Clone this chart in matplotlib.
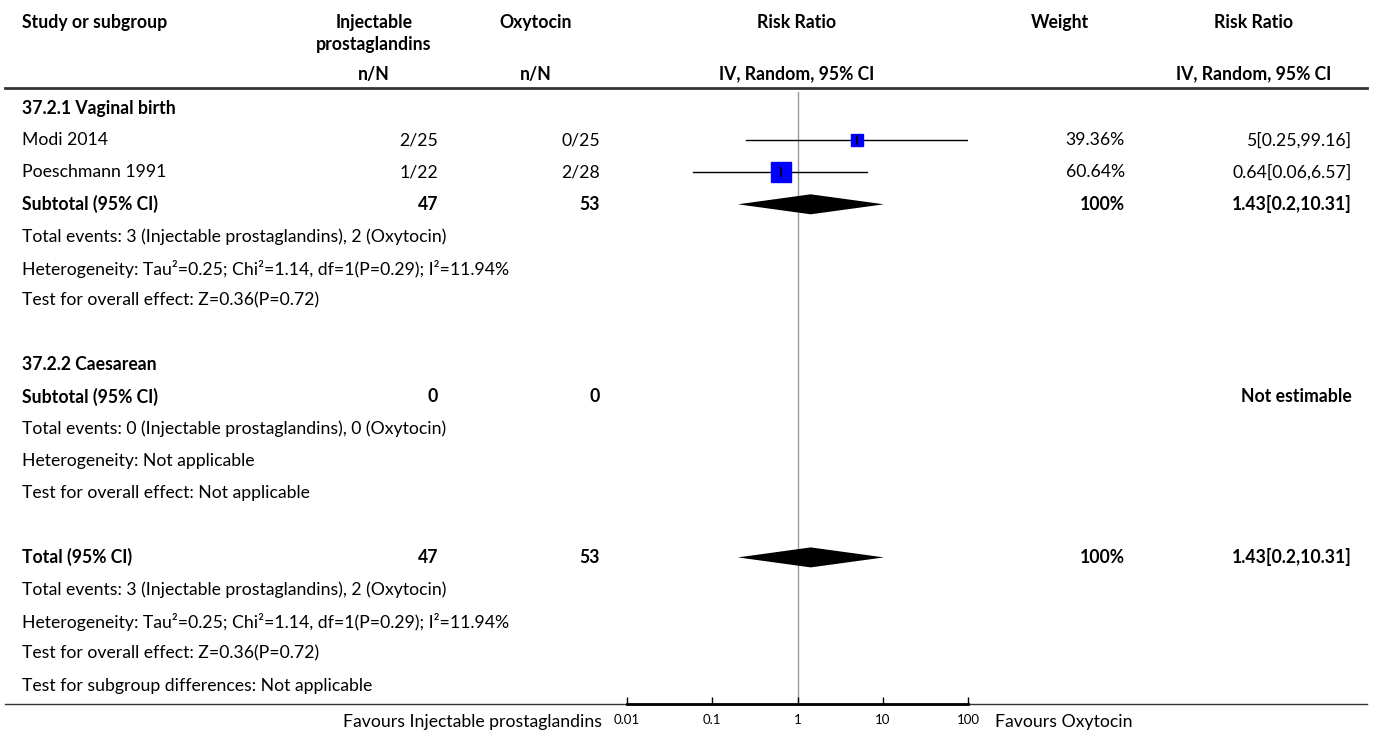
import numpy as np
import matplotlib
matplotlib.use('Agg')
import matplotlib.pyplot as plt

plt.rcParams['font.family'] = ['Lato', 'DejaVu Sans']

# data
studies = ['Modi 2014', 'Poeschmann 1991']
events_pg = [2, 1]
total_pg = [25, 22]
events_oxy = [0, 2]
total_oxy = [25, 28]
rr = [5, 0.64]
rr_lo = [0.25, 0.06]
rr_hi = [99.16, 6.57]
weights = [39.36, 60.64]

sub_rr, sub_lo, sub_hi = 1.43, 0.2, 10.31
sub_n_pg, sub_n_oxy = 47, 53
ticks = [0.01, 0.1, 1, 10, 100]
tick_labels = ['0.01', '0.1', '1', '10', '100']

het_text = 'Heterogeneity: Tau\u00b2=0.25; Chi\u00b2=1.14, df=1(P=0.29); I\u00b2=11.94%'
events_text = 'Total events: 3 (Injectable prostaglandins), 2 (Oxytocin)'
effect_text = 'Test for overall effect: Z=0.36(P=0.72)'

W, H = 1375, 735
FS = 12.7
fig = plt.figure(figsize=(W / 100, H / 100), dpi=100)
ax = fig.add_axes([0, 0, 1, 1])
ax.set_xlim(0, W)
ax.set_ylim(H, 0)
ax.axis('off')

# column positions (pixels)
X_LEFT = 22
X_PG = 438
X_OXY = 600
X_W = 1125
X_RR = 1352
Y0, DY = 108, 32.1


def row_y(k):
    return Y0 + DY * k


def txt(x, y, s, ha='left', bold=False, size=FS):
    ax.text(x, y, s, ha=ha, va='center', fontsize=size,
            fontweight='bold' if bold else 'normal', color='black')


# header
txt(X_LEFT, 22, 'Study or subgroup', bold=True)
txt(374, 22, 'Injectable', ha='center', bold=True)
txt(374, 44, 'prostaglandins', ha='center', bold=True)
txt(536, 22, 'Oxytocin', ha='center', bold=True)
txt(797, 22, 'Risk Ratio', ha='center', bold=True)
txt(1060, 22, 'Weight', ha='center', bold=True)
txt(1254, 22, 'Risk Ratio', ha='center', bold=True)
txt(374, 74, 'n/N', ha='center', bold=True)
txt(536, 74, 'n/N', ha='center', bold=True)
txt(797, 74, 'IV, Random, 95% CI', ha='center', bold=True)
txt(1254, 74, 'IV, Random, 95% CI', ha='center', bold=True)
ax.plot([5, 1367], [88, 88], color='#333333', lw=2)

# subgroup 1
txt(X_LEFT, row_y(0), '37.2.1 Vaginal birth', bold=True)
for i, name in enumerate(studies):
    y = row_y(1 + i)
    txt(X_LEFT, y, name)
    txt(X_PG, y, f'{events_pg[i]}/{total_pg[i]}', ha='right')
    txt(X_OXY, y, f'{events_oxy[i]}/{total_oxy[i]}', ha='right')
    txt(X_W, y, f'{weights[i]:.2f}%', ha='right')
    txt(X_RR, y, f'{rr[i]:g}[{rr_lo[i]:g},{rr_hi[i]:g}]', ha='right')
y = row_y(3)
txt(X_LEFT, y, 'Subtotal (95% CI)', bold=True)
txt(X_PG, y, str(sub_n_pg), ha='right', bold=True)
txt(X_OXY, y, str(sub_n_oxy), ha='right', bold=True)
txt(X_W, y, '100%', ha='right', bold=True)
txt(X_RR, y, f'{sub_rr:g}[{sub_lo:g},{sub_hi:g}]', ha='right', bold=True)
txt(X_LEFT, row_y(4), events_text)
txt(X_LEFT, row_y(5), het_text)
txt(X_LEFT, row_y(6), effect_text)

# subgroup 2
txt(X_LEFT, row_y(8), '37.2.2 Caesarean', bold=True)
y = row_y(9)
txt(X_LEFT, y, 'Subtotal (95% CI)', bold=True)
txt(X_PG, y, '0', ha='right', bold=True)
txt(X_OXY, y, '0', ha='right', bold=True)
txt(X_RR, y, 'Not estimable', ha='right', bold=True)
txt(X_LEFT, row_y(10), 'Total events: 0 (Injectable prostaglandins), 0 (Oxytocin)')
txt(X_LEFT, row_y(11), 'Heterogeneity: Not applicable')
txt(X_LEFT, row_y(12), 'Test for overall effect: Not applicable')

# overall
y = row_y(14)
txt(X_LEFT, y, 'Total (95% CI)', bold=True)
txt(X_PG, y, str(sub_n_pg), ha='right', bold=True)
txt(X_OXY, y, str(sub_n_oxy), ha='right', bold=True)
txt(X_W, y, '100%', ha='right', bold=True)
txt(X_RR, y, f'{sub_rr:g}[{sub_lo:g},{sub_hi:g}]', ha='right', bold=True)
txt(X_LEFT, row_y(15), events_text)
txt(X_LEFT, row_y(16), het_text)
txt(X_LEFT, row_y(17), effect_text)
txt(X_LEFT, row_y(18), 'Test for subgroup differences: Not applicable')

# bottom line + favours labels
AX_Y = 704
ax.plot([5, 1367], [AX_Y, AX_Y], color='#333333', lw=1)
txt(602, 722, 'Favours Injectable prostaglandins', ha='right')
txt(995, 722, 'Favours Oxytocin')

# forest panel on log scale
FX0, FX1, FY0 = 627, 968, 88
fx = fig.add_axes([FX0 / W, (H - AX_Y) / H, (FX1 - FX0) / W, (AX_Y - FY0) / H])
fx.set_xscale('log')
fx.set_xlim(ticks[0], ticks[-1])
fx.set_ylim(AX_Y, FY0)
fx.patch.set_alpha(0)
for s in ['top', 'left', 'right']:
    fx.spines[s].set_visible(False)
fx.spines['bottom'].set_linewidth(2)
fx.set_yticks([])
fx.set_xticks(ticks)
fx.set_xticklabels(tick_labels)
fx.minorticks_off()
fx.tick_params(axis='x', direction='in', length=5, width=1, labelsize=9.5, pad=7)

fx.plot([1, 1], [92, AX_Y], color='#999999', lw=1, zorder=1)

for i in range(len(studies)):
    y = row_y(1 + i)
    fx.plot([rr_lo[i], rr_hi[i]], [y, y], color='black', lw=1, zorder=2)
    side_px = weights[i] * 0.33
    fx.plot(rr[i], y, marker='s', ms=side_px * 0.72, color='#0000ff',
            mec='#0000ff', zorder=3)
    fx.plot(rr[i], y, marker='|', ms=7, mew=1.2, color='black', zorder=4)

for k in [3, 14]:
    y = row_y(k)
    fx.fill([sub_lo, sub_rr, sub_hi, sub_rr], [y, y - 10, y, y + 10],
            color='black', lw=0, zorder=3)

fig.savefig('out.png', dpi=100)
